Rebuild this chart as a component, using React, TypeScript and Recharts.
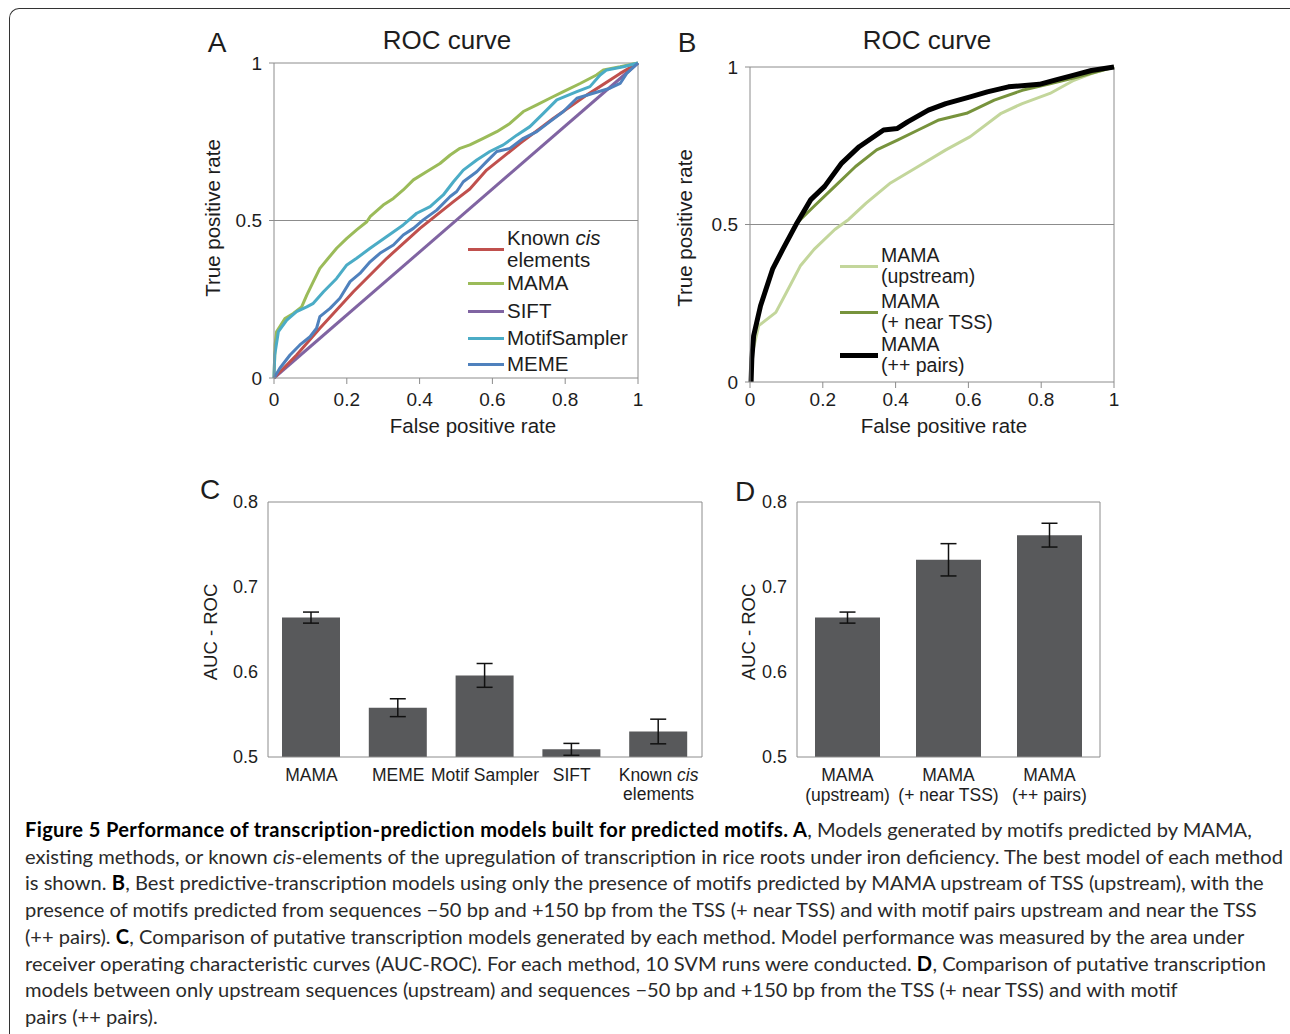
import React from "react";
import {
  Bar,
  BarChart,
  ErrorBar,
  Line,
  LineChart,
  ReferenceLine,
  XAxis,
  YAxis,
} from "recharts";

// ROC points: [false positive rate, true positive rate]
const rocKnownCis: [number, number][] = [
  [0, 0], [0.062, 0.073], [0.126, 0.158], [0.218, 0.274], [0.31, 0.38],
  [0.401, 0.475], [0.493, 0.56], [0.538, 0.6], [0.584, 0.66], [0.676, 0.745],
  [0.767, 0.824], [0.859, 0.898], [0.951, 0.967], [1, 1],
];
const rocMama: [number, number][] = [
  [0, 0], [0.003, 0.105], [0.007, 0.147], [0.03, 0.189], [0.053, 0.205],
  [0.076, 0.226], [0.09, 0.263], [0.108, 0.306], [0.126, 0.348], [0.149, 0.38],
  [0.172, 0.412], [0.2, 0.443], [0.227, 0.47], [0.255, 0.496], [0.264, 0.512],
  [0.3, 0.549], [0.328, 0.57], [0.355, 0.597], [0.383, 0.629], [0.419, 0.655],
  [0.456, 0.681], [0.484, 0.708], [0.511, 0.729], [0.538, 0.74], [0.575, 0.761],
  [0.612, 0.782], [0.648, 0.808], [0.685, 0.846], [0.722, 0.867], [0.758, 0.888],
  [0.795, 0.909], [0.841, 0.935], [0.886, 0.962], [0.905, 0.978], [0.951, 0.988],
  [1, 1],
];
const rocSift: [number, number][] = [[0, 0], [1, 1]];
const rocMotifSampler: [number, number][] = [
  [0, 0], [0.002, 0.073], [0.012, 0.147], [0.035, 0.184], [0.062, 0.211],
  [0.09, 0.226], [0.108, 0.237], [0.136, 0.274], [0.172, 0.316], [0.2, 0.359],
  [0.227, 0.38], [0.264, 0.412], [0.31, 0.449], [0.355, 0.486], [0.392, 0.523],
  [0.429, 0.544], [0.465, 0.581], [0.493, 0.623], [0.52, 0.66], [0.557, 0.692],
  [0.593, 0.719], [0.63, 0.74], [0.667, 0.771], [0.703, 0.798], [0.74, 0.84],
  [0.777, 0.883], [0.832, 0.909], [0.868, 0.925], [0.896, 0.962], [0.914, 0.978],
  [0.96, 0.988], [1, 1],
];
const rocMeme: [number, number][] = [
  [0, 0], [0.016, 0.031], [0.044, 0.073], [0.071, 0.105], [0.099, 0.131],
  [0.117, 0.158], [0.126, 0.195], [0.154, 0.221], [0.181, 0.253], [0.209, 0.306],
  [0.236, 0.332], [0.264, 0.369], [0.291, 0.396], [0.328, 0.422], [0.355, 0.454],
  [0.383, 0.475], [0.41, 0.502], [0.447, 0.533], [0.484, 0.576], [0.502, 0.592],
  [0.52, 0.623], [0.557, 0.655], [0.584, 0.687], [0.612, 0.719], [0.648, 0.729],
  [0.685, 0.761], [0.722, 0.782], [0.758, 0.814], [0.795, 0.846], [0.832, 0.888],
  [0.877, 0.904], [0.923, 0.92], [0.951, 0.935], [0.969, 0.967], [1, 1],
];

const rocUpstream: [number, number][] = [
  [0.003, 0], [0.007, 0.095], [0.024, 0.179], [0.071, 0.221], [0.1, 0.284],
  [0.138, 0.368], [0.176, 0.421], [0.233, 0.484], [0.271, 0.516], [0.319, 0.568],
  [0.386, 0.632], [0.462, 0.684], [0.538, 0.737], [0.605, 0.779], [0.69, 0.853],
  [0.748, 0.884], [0.824, 0.916], [0.89, 0.958], [0.938, 0.979], [1, 1],
];
const rocNearTss: [number, number][] = [
  [0.003, 0], [0.005, 0.074], [0.01, 0.147], [0.029, 0.242], [0.062, 0.358],
  [0.09, 0.421], [0.129, 0.505], [0.176, 0.558], [0.233, 0.621], [0.29, 0.684],
  [0.348, 0.737], [0.405, 0.768], [0.462, 0.8], [0.519, 0.832], [0.595, 0.853],
  [0.671, 0.895], [0.748, 0.926], [0.824, 0.947], [0.9, 0.968], [1, 1],
];
const rocPairs: [number, number][] = [
  [0.003, 0], [0.005, 0.074], [0.01, 0.147], [0.029, 0.242], [0.062, 0.358],
  [0.09, 0.421], [0.129, 0.505], [0.167, 0.579], [0.205, 0.621], [0.252, 0.695],
  [0.3, 0.747], [0.367, 0.8], [0.405, 0.805], [0.433, 0.826], [0.49, 0.863],
  [0.538, 0.884], [0.605, 0.905], [0.652, 0.921], [0.71, 0.937], [0.795, 0.945],
  [0.843, 0.96], [0.89, 0.974], [0.938, 0.989], [1, 1],
];

const fprTicks = [0, 0.2, 0.4, 0.6, 0.8, 1];
const tprTicks = [0, 0.5, 1];
const aucTicks = [0.5, 0.6, 0.7, 0.8];

// panel C
const methodNames = ["MAMA", "MEME", "Motif Sampler", "SIFT", "Known cis\nelements"];
const methodAuc = [0.664, 0.558, 0.596, 0.509, 0.53];
const methodErr = [0.0065, 0.0105, 0.014, 0.007, 0.0145];

// panel D
const mamaNames = ["MAMA\n(upstream)", "MAMA\n(+ near TSS)", "MAMA\n(++ pairs)"];
const mamaAuc = [0.664, 0.732, 0.761];
const mamaErr = [0.0065, 0.019, 0.014];

const captionLines = [
  "**Figure 5 Performance of transcription-prediction models built for predicted motifs. A**, Models generated by motifs predicted by MAMA,",
  "existing methods, or known _cis_-elements of the upregulation of transcription in rice roots under iron deficiency. The best model of each method",
  "is shown. **B**, Best predictive-transcription models using only the presence of motifs predicted by MAMA upstream of TSS (upstream), with the",
  "presence of motifs predicted from sequences \u221250 bp and +150 bp from the TSS (+ near TSS) and with motif pairs upstream and near the TSS",
  "(++ pairs). **C**, Comparison of putative transcription models generated by each method. Model performance was measured by the area under",
  "receiver operating characteristic curves (AUC-ROC). For each method, 10 SVM runs were conducted. **D**, Comparison of putative transcription",
  "models between only upstream sequences (upstream) and sequences \u221250 bp and +150 bp from the TSS (+ near TSS) and with motif",
  "pairs (++ pairs).",
];

const AXIS = "#8c8c8c";
const INK = "#1d1d1d";
const FONT = "'Liberation Sans', Arial, sans-serif";

const pts = (a: [number, number][]) => a.map(([x, y]) => ({ x, y }));

function Txt({ x, y, size, children, rotate = false }: any) {
  return (
    <div
      style={{
        position: "absolute",
        left: x,
        top: y,
        fontSize: size,
        whiteSpace: "nowrap",
        color: INK,
        lineHeight: 1,
        transform: `translate(-50%, -50%)${rotate ? " rotate(-90deg)" : ""}`,
      }}
    >
      {children}
    </div>
  );
}

function LegendBox({ x, tops, lineHeight, fontSize, entries }: any) {
  return (
    <>
      {entries.map((e: any, i: number) => (
        <div
          key={i}
          style={{
            position: "absolute",
            left: x,
            top: tops[i],
            display: "flex",
            alignItems: "center",
            fontSize,
            lineHeight: `${lineHeight}px`,
            color: INK,
          }}
        >
          <div style={{ width: e.swatch, height: e.width, background: e.color, marginRight: 3 }} />
          <div>
            {e.lines.map((l: any, j: number) => (
              <div key={j}>{l}</div>
            ))}
          </div>
        </div>
      ))}
    </>
  );
}

function CatTick({ x, y, payload, first, gap }: any) {
  const lines = String(payload.value).split("\n");
  return (
    <text x={x} y={y} textAnchor="middle" fontSize={17.5} fill={INK}>
      {lines.map((ln, i) => (
        <tspan key={i} x={x} dy={i === 0 ? first : gap}>
          {ln.split(" ").map((w, k) => (
            <tspan key={k} fontStyle={w === "cis" ? "italic" : "normal"}>
              {(k > 0 ? " " : "") + w}
            </tspan>
          ))}
        </tspan>
      ))}
    </text>
  );
}

function RocChart({ series, tickMargin }: any) {
  return (
    <LineChart width={464} height={405} margin={{ top: 20, right: 20, bottom: 40, left: 0 }}>
      <XAxis
        dataKey="x"
        type="number"
        domain={[0, 1]}
        ticks={fprTicks}
        stroke={AXIS}
        tickSize={6}
        tickMargin={tickMargin}
        height={30}
        tick={{ fill: INK, fontSize: 19 }}
        tickFormatter={(v) => String(v)}
      />
      <YAxis
        type="number"
        domain={[0, 1]}
        ticks={tprTicks}
        stroke={AXIS}
        width={80}
        tickSize={5}
        tickMargin={7}
        tick={{ fill: INK, fontSize: 19 }}
        tickFormatter={(v) => String(v)}
      />
      <ReferenceLine y={0.5} stroke={AXIS} strokeWidth={1} />
      <ReferenceLine y={1} stroke={AXIS} strokeWidth={1} />
      <ReferenceLine x={1} stroke={AXIS} strokeWidth={1} />
      {series.map((s: any) => (
        <Line
          key={s.name}
          data={pts(s.data)}
          dataKey="y"
          type="linear"
          stroke={s.color}
          strokeWidth={s.width}
          strokeLinejoin="round"
          dot={false}
          isAnimationActive={false}
        />
      ))}
    </LineChart>
  );
}

function AucChart({ names, auc, err, width, barSize, gap }: any) {
  const data = names.map((name: string, i: number) => ({ name, auc: auc[i], err: err[i] }));
  return (
    <BarChart width={width} height={325} data={data} margin={{ top: 20, right: 9, bottom: 0, left: 0 }}>
      <XAxis
        dataKey="name"
        stroke={AXIS}
        tickLine={false}
        interval={0}
        height={50}
        tick={<CatTick first={16} gap={gap} />}
      />
      <YAxis
        domain={[0.5, 0.8]}
        ticks={aucTicks}
        stroke={AXIS}
        width={60}
        tickLine={false}
        tickSize={6}
        tickMargin={4}
        tick={{ fill: INK, fontSize: 18 }}
        tickFormatter={(v) => Number(v).toFixed(1)}
      />
      <YAxis yAxisId="frame" orientation="right" domain={[0.5, 0.8]} stroke={AXIS} width={1} tick={false} tickLine={false} />
      <ReferenceLine y={0.8} stroke={AXIS} strokeWidth={1} />
      <Bar dataKey="auc" fill="#58595b" barSize={barSize} isAnimationActive={false}>
        <ErrorBar dataKey="err" width={8} stroke="#111" strokeWidth={1.5} direction="y" />
      </Bar>
    </BarChart>
  );
}

function Caption() {
  const parse = (line: string) =>
    line.split(/(\*\*[^*]+\*\*|_[^_]+_)/).filter(Boolean).map((seg, i) => {
      if (seg.startsWith("**"))
        return <b key={i} style={{ color: "#000", letterSpacing: 0.35 }}>{seg.slice(2, -2)}</b>;
      if (seg.startsWith("_"))
        return <i key={i}>{seg.slice(1, -1)}</i>;
      return <span key={i}>{seg}</span>;
    });
  return (
    <div
      style={{
        position: "absolute",
        left: 25,
        top: 816,
        fontFamily: "Lato, sans-serif",
        fontSize: 20.1,
        lineHeight: "26.7px",
        color: "#2a2a2a",
        whiteSpace: "nowrap",
      }}
    >
      {captionLines.map((line, i) => (
        <div key={i}>{parse(line)}</div>
      ))}
    </div>
  );
}

export default function App() {
  const seriesA = [
    { name: "SIFT", data: rocSift, color: "#8064a2", width: 3 },
    { name: "Known cis", data: rocKnownCis, color: "#c0504d", width: 3 },
    { name: "MAMA", data: rocMama, color: "#9bbb59", width: 3 },
    { name: "MotifSampler", data: rocMotifSampler, color: "#4bacc6", width: 3 },
    { name: "MEME", data: rocMeme, color: "#4f81bd", width: 3 },
  ];
  const seriesB = [
    { name: "upstream", data: rocUpstream, color: "#c3d69b", width: 3 },
    { name: "near", data: rocNearTss, color: "#77933c", width: 3 },
    { name: "pairs", data: rocPairs, color: "#000000", width: 5 },
  ];
  return (
    <div
      style={{
        position: "relative",
        width: 1290,
        height: 1034,
        overflow: "hidden",
        background: "#fff",
        fontFamily: FONT,
      }}
    >
      <style>{"body{margin:0}"}</style>
      <div
        style={{
          position: "absolute",
          left: 9,
          top: 8,
          width: 1300,
          height: 1100,
          borderTop: "1.5px solid #333",
          borderLeft: "1.5px solid #333",
          borderTopLeftRadius: 10,
        }}
      />

      <div style={{ position: "absolute", left: 194, top: 43 }}>
        <RocChart series={seriesA} tickMargin={9} />
      </div>
      <div style={{ position: "absolute", left: 670, top: 47 }}>
        <RocChart series={seriesB} tickMargin={5} />
      </div>
      <div style={{ position: "absolute", left: 208, top: 482 }}>
        <AucChart names={methodNames} auc={methodAuc} err={methodErr} width={504} barSize={58} gap={19} />
      </div>
      <div style={{ position: "absolute", left: 737, top: 482 }}>
        <AucChart names={mamaNames} auc={mamaAuc} err={mamaErr} width={373} barSize={65} gap={20} />
      </div>

      <Txt x={217} y={43} size={28}>A</Txt>
      <Txt x={447} y={40} size={26}>ROC curve</Txt>
      <Txt x={687} y={43} size={28}>B</Txt>
      <Txt x={927} y={40} size={26}>ROC curve</Txt>
      <Txt x={213} y={218} size={20.5} rotate>True positive rate</Txt>
      <Txt x={685} y={228} size={20.5} rotate>True positive rate</Txt>
      <Txt x={473} y={426} size={20.5}>False positive rate</Txt>
      <Txt x={944} y={426} size={20.5}>False positive rate</Txt>
      <Txt x={210} y={490} size={28}>C</Txt>
      <Txt x={745} y={492} size={28}>D</Txt>
      <Txt x={211} y={632} size={18.5} rotate>AUC - ROC</Txt>
      <Txt x={749} y={632} size={18.5} rotate>AUC - ROC</Txt>

      <LegendBox
        x={468}
        tops={[227, 272, 300, 327, 353]}
        lineHeight={22}
        fontSize={20.5}
        entries={[
          { color: "#c0504d", width: 3, swatch: 36, lines: [<>Known <i>cis</i></>, "elements"] },
          { color: "#9bbb59", width: 3, swatch: 36, lines: ["MAMA"] },
          { color: "#8064a2", width: 3, swatch: 36, lines: ["SIFT"] },
          { color: "#4bacc6", width: 3, swatch: 36, lines: ["MotifSampler"] },
          { color: "#4f81bd", width: 3, swatch: 36, lines: ["MEME"] },
        ]}
      />
      <LegendBox
        x={840}
        tops={[245, 291, 334]}
        lineHeight={21}
        fontSize={19.5}
        entries={[
          { color: "#c3d69b", width: 3, swatch: 38, lines: ["MAMA", "(upstream)"] },
          { color: "#77933c", width: 3, swatch: 38, lines: ["MAMA", "(+ near TSS)"] },
          { color: "#000000", width: 5, swatch: 38, lines: ["MAMA", "(++ pairs)"] },
        ]}
      />

      <Caption />
    </div>
  );
}
